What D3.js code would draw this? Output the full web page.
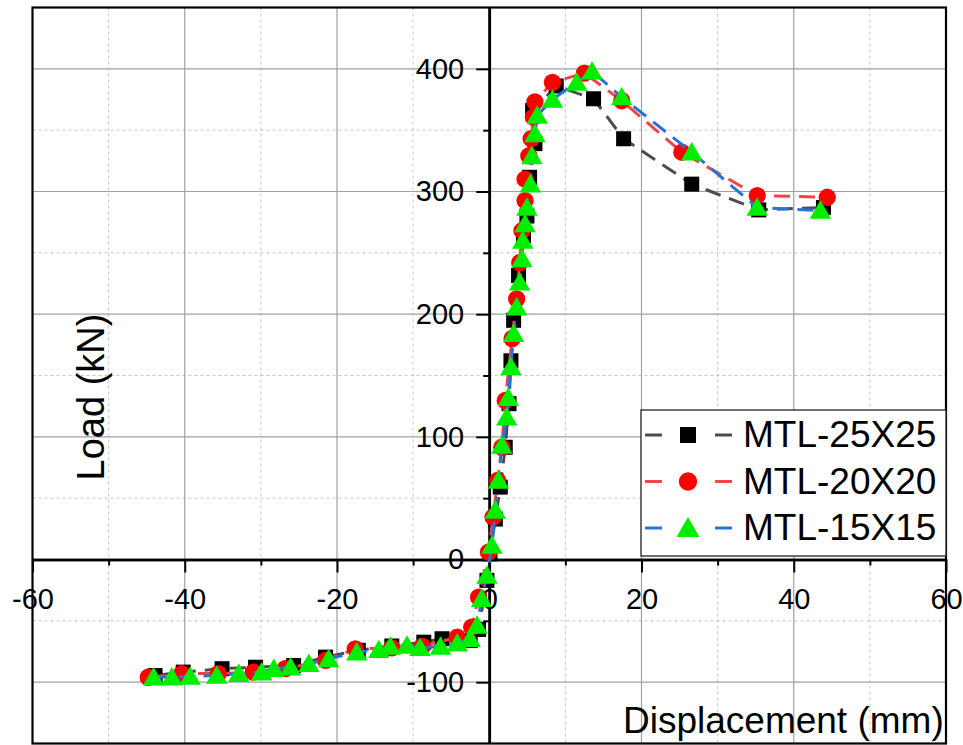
<!DOCTYPE html>
<html>
<head>
<meta charset="utf-8">
<script src="https://cdn.jsdelivr.net/npm/d3@7"></script>
<style>
  html, body { margin: 0; padding: 0; background: #ffffff; }
  svg { display: block; font-family: "Liberation Sans", Arial, sans-serif; }
</style>
</head>
<body>
<svg id="chart" width="963" height="745"></svg>
<script>
// Load–displacement curves for three mesh sizes
const seriesNames = ["MTL-25X25", "MTL-20X20", "MTL-15X15"];

const disp25 = [-43.9, -40.2, -35.1, -30.7, -25.7, -21.5, -17.2, -12.8, -8.6, -6.2, -2.5, -1.4, -0.3, 0.1, 0.8, 1.45, 2.1, 2.6, 2.85, 3.2, 3.85, 4.5, 4.95, 5.3, 6.0, 5.7, 8.8, 13.7, 17.65, 26.6, 35.4, 43.9];
const load25 = [-94.6, -91.8, -89, -87.8, -86.4, -79.6, -74, -70.5, -67.4, -64.6, -66, -57, -17, 4.6, 33, 59, 91.5, 127, 162, 195, 231.5, 264, 280, 311.6, 339, 366, 386, 375.6, 343, 306, 285, 287];

const disp20 = [-44.8, -40.4, -35.6, -31.0, -26.8, -21.5, -17.6, -12.8, -8.8, -4.2, -2.3, -1.4, -0.1, 0.5, 1.1, 1.65, 2.1, 3.0, 3.6, 4.0, 4.3, 4.7, 4.7, 5.2, 5.5, 5.8, 6.0, 8.3, 12.5, 17.4, 25.3, 35.2, 44.4];
const load20 = [-96, -93, -93, -91.8, -89, -82.3, -72.8, -72, -70.9, -63.3, -55.2, -30.7, 6, 34.5, 64.4, 91.5, 129.6, 180, 212.5, 242, 268, 292.6, 310, 329, 343, 360.6, 373, 389, 396.5, 374, 332, 296.7, 295.3];

const disp15 = [-44.1, -41.7, -39.3, -35.8, -32.9, -29.9, -28.3, -26.1, -23.7, -21.1, -17.4, -14.5, -13.0, -10.8, -9.1, -6.4, -4.2, -2.5, -1.6, -1.0, -0.3, 0.35, 0.8, 1.2, 1.65, 2.3, 2.5, 2.85, 3.2, 3.6, 4.0, 4.3, 4.4, 4.7, 4.95, 5.4, 5.6, 6.0, 6.3, 8.3, 11.5, 13.5, 17.4, 26.6, 35.2, 43.5];
const load15 = [-96, -96, -95.4, -94.6, -93, -91.8, -89, -87.8, -85, -81, -75.6, -73.6, -70.9, -70.1, -72, -70.9, -68.2, -64.6, -53.8, -32, -13, 11.4, 40, 64.4, 93, 116, 132, 157, 184, 205.7, 226, 245, 260, 273.6, 287, 306, 329, 347, 362, 375, 389, 398, 377, 332, 287, 284.5];

const xMajorTicks = [-60, -40, -20, 0, 20, 40, 60];
const xMinorTicks = [-50, -30, -10, 10, 30, 50];
const yMajorTicks = [-100, 0, 100, 200, 300, 400];
const yMinorTicks = [-50, 50, 150, 250, 350];

const xTitle = "Displacement (mm)";
const yTitle = "Load (kN)";

// ---- layout ----
const svg = d3.select("#chart");
const plotLeft = 32.5, plotRight = 946, plotTop = 7.5, plotBottom = 743.5;

const x = d3.scaleLinear().domain([-60, 60]).range([plotLeft, plotRight]);
const y = d3.scaleLinear().domain([-150, 450]).range([plotBottom, plotTop]);

svg.append("rect").attr("width", 963).attr("height", 745).attr("fill", "#ffffff");

// ---- grid ----
const grid = svg.append("g");
grid.selectAll(".gx-minor").data(xMinorTicks).join("line")
  .attr("x1", d => x(d)).attr("x2", d => x(d)).attr("y1", plotTop).attr("y2", plotBottom)
  .attr("stroke", "#c4c4c4").attr("stroke-width", 1).attr("stroke-dasharray", "3,3");
grid.selectAll(".gy-minor").data(yMinorTicks).join("line")
  .attr("y1", d => y(d)).attr("y2", d => y(d)).attr("x1", plotLeft).attr("x2", plotRight)
  .attr("stroke", "#c4c4c4").attr("stroke-width", 1).attr("stroke-dasharray", "3,3");
grid.selectAll(".gx-major").data(xMajorTicks.filter(d => d !== 0 && Math.abs(d) !== 60)).join("line")
  .attr("x1", d => x(d)).attr("x2", d => x(d)).attr("y1", plotTop).attr("y2", plotBottom)
  .attr("stroke", "#a0a0a0").attr("stroke-width", 1.2);
grid.selectAll(".gy-major").data(yMajorTicks.filter(d => d !== 0)).join("line")
  .attr("y1", d => y(d)).attr("y2", d => y(d)).attr("x1", plotLeft).attr("x2", plotRight)
  .attr("stroke", "#a0a0a0").attr("stroke-width", 1.2);

// ---- axes crossing at the origin ----
const tickFont = 29;
const plainNumber = d => String(d);   // hyphen-minus for negatives
const xAxisMajor = d3.axisBottom(x).tickValues(xMajorTicks).tickFormat(plainNumber)
  .tickSize(13).tickSizeOuter(0).tickPadding(16);
const xAxisMinor = d3.axisBottom(x).tickValues(xMinorTicks).tickSize(6).tickSizeOuter(0).tickFormat("");
const yAxisMajor = d3.axisLeft(y).tickValues(yMajorTicks).tickFormat(plainNumber)
  .tickSize(13).tickSizeOuter(0).tickPadding(12);
const yAxisMinor = d3.axisLeft(y).tickValues(yMinorTicks).tickSize(6).tickSizeOuter(0).tickFormat("");

function styleAxis(g) {
  g.selectAll("path.domain").attr("stroke", "#000").attr("stroke-width", 2.6);
  g.selectAll(".tick line").attr("stroke", "#000").attr("stroke-width", 2);
  g.selectAll(".tick text").attr("fill", "#000").attr("font-size", tickFont)
    .attr("font-family", "'Liberation Sans', Arial, sans-serif");
}

const gx = svg.append("g").attr("transform", `translate(0,${y(0)})`);
gx.append("g").call(xAxisMinor).call(styleAxis);
gx.append("g").call(xAxisMajor).call(styleAxis);

const gy = svg.append("g").attr("transform", `translate(${x(0)},0)`);
gy.append("g").call(yAxisMinor).call(styleAxis);
gy.append("g").call(yAxisMajor).call(styleAxis);

// ---- axis titles ----
svg.append("text")
  .attr("x", 623).attr("y", 733)
  .attr("font-size", 37).attr("fill", "#000")
  .text(xTitle);

svg.append("text")
  .attr("transform", `translate(104,${397}) rotate(-90)`)
  .attr("text-anchor", "middle")
  .attr("font-size", 38).attr("fill", "#000")
  .text(yTitle);

// ---- markers ----
const triangleShape = {
  draw(context, size) {
    const w = Math.sqrt(size * 2.3);
    const h = w * 0.86;
    context.moveTo(0, -h * 0.55);
    context.lineTo(w / 2, h * 0.45);
    context.lineTo(-w / 2, h * 0.45);
    context.closePath();
  }
};

const styles = [
  { name: seriesNames[0], disp: disp25, load: load25, line: "#4d4d4d", fill: "#000000", symbol: d3.symbolSquare, size: 225 },
  { name: seriesNames[1], disp: disp20, load: load20, line: "#ef4545", fill: "#ff0000", symbol: d3.symbolCircle, size: 235 },
  { name: seriesNames[2], disp: disp15, load: load15, line: "#2b72d8", fill: "#00ee00", symbol: triangleShape, size: 200 }
];

const lineGen = d3.line().x(d => x(d[0])).y(d => y(d[1]));
const dash = "16,9";

styles.forEach(s => {
  const pts = s.disp.map((d, i) => [d, s.load[i]]);
  const g = svg.append("g");
  g.append("path")
    .attr("d", lineGen(pts))
    .attr("fill", "none")
    .attr("stroke", s.line)
    .attr("stroke-width", 3)
    .attr("stroke-dasharray", dash);
  g.selectAll("path.mk").data(pts).join("path")
    .attr("class", "mk")
    .attr("transform", d => `translate(${x(d[0])},${y(d[1])})`)
    .attr("d", d3.symbol().type(s.symbol).size(s.size))
    .attr("fill", s.fill);
});

// ---- plot frame ----
svg.append("rect")
  .attr("x", plotLeft).attr("y", plotTop)
  .attr("width", plotRight - plotLeft).attr("height", plotBottom - plotTop)
  .attr("fill", "none").attr("stroke", "#000").attr("stroke-width", 2.2);

// ---- legend ----
const lg = svg.append("g");
lg.append("rect")
  .attr("x", 641).attr("y", 410).attr("width", 305).attr("height", 146)
  .attr("fill", "#ffffff").attr("stroke", "#222").attr("stroke-width", 1.3);

styles.forEach((s, i) => {
  const cy = 435 + i * 46.5;
  [[645, 662], [715, 732]].forEach(([a, b]) => {
    lg.append("line").attr("x1", a).attr("x2", b).attr("y1", cy).attr("y2", cy)
      .attr("stroke", s.line).attr("stroke-width", 3);
  });
  lg.append("path")
    .attr("transform", `translate(688,${cy})`)
    .attr("d", d3.symbol().type(s.symbol).size(s.size + 30))
    .attr("fill", s.fill);
  lg.append("text")
    .attr("x", 743).attr("y", cy + 12)
    .attr("font-size", 37).attr("fill", "#000")
    .text(s.name);
});
</script>
</body>
</html>
